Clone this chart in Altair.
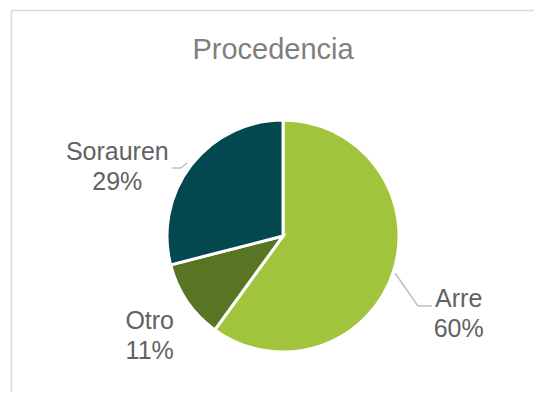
import altair as alt
import pandas as pd

categories = ["Arre", "Otro", "Sorauren"]
values = [60, 11, 29]
order = [1, 2, 3]
colors = ["#A0C43B", "#587523", "#03474F"]

df = pd.DataFrame({"cat": categories, "value": values, "ord": order})

LABEL_FONT = "Liberation Sans"
LABEL_COLOR = "#626262"

base = alt.Chart(df)

pie = base.mark_arc(radius=116, stroke="white", strokeWidth=3).encode(
    theta=alt.Theta("value:Q", stack=True, scale=alt.Scale(domain=[0, 100])),
    color=alt.Color("cat:N", scale=alt.Scale(domain=categories, range=colors), legend=None),
    order=alt.Order("ord:Q"),
)

lab_base = base.transform_window(
    cum="sum(value)", sort=[alt.SortField("ord")], frame=[None, 0]
).transform_calculate(
    mid="datum.cum - datum.value / 2",
    label="[datum.cat, datum.value + '%']",
)

def label_layer(cat, r, dx, dy):
    return lab_base.transform_filter(alt.datum.cat == cat).mark_text(
        radius=r, dx=dx, dy=dy, font=LABEL_FONT, fontSize=25,
        color=LABEL_COLOR, align="center", baseline="middle", lineHeight=30,
    ).encode(
        theta=alt.Theta("mid:Q", stack=None, scale=alt.Scale(domain=[0, 100])),
        text="label:N",
    )

labels = [
    label_layer("Arre", 190, -5, 4),
    label_layer("Otro", 166, 4, -8),
    label_layer("Sorauren", 173, -29, 22),
]

def seg(x, y, x2, y2, color="#BFBFBF", w=1.5):
    return alt.Chart(df.head(1)).mark_rule(color=color, strokeWidth=w).encode(
        x=alt.value(x), y=alt.value(y), x2=alt.value(x2), y2=alt.value(y2)
    )

leaders = [
    seg(362, 189, 385, 222),
    seg(385, 222, 399, 222),
    seg(139, 84, 148, 84),
    seg(148, 84, 154, 79),
]

border = [
    seg(-21.5, -73.5, -21.5, 340, color="#D9D9D9", w=1.5),
    seg(-21.5, -73.5, 530, -73.5, color="#D9D9D9", w=1.5),
]

chart = alt.layer(*border, pie, *labels, *leaders).properties(
    width=500,
    height=304,
    padding={"left": 25, "top": 76, "right": 1, "bottom": 4},
    autosize=alt.AutoSizeParams(type="none"),
    title=alt.TitleParams(
        "Procedencia", font=LABEL_FONT, fontSize=29, fontWeight="normal",
        color="#7F7F7F", anchor="middle", offset=0, dx=-10, dy=55,
    ),
).configure_view(stroke=None)

chart.save("out.html", embed_options={"renderer": "svg", "actions": False})
